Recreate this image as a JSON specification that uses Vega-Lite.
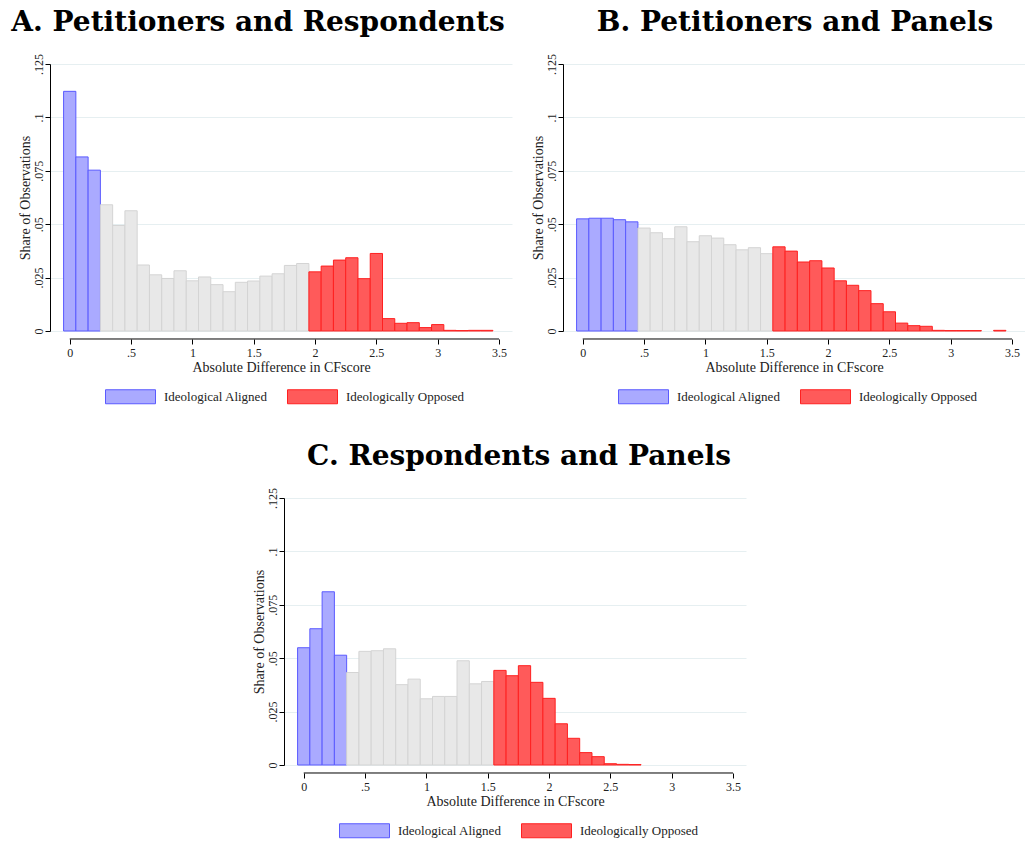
{
  "$schema": "https://vega.github.io/schema/vega-lite/v6.json",
  "padding": {"left": 11, "top": 8, "right": 0, "bottom": 0},
  "background": "white",
  "bounds": "flush",
  "spacing": 434,
  "datasets": {
    "A": [
      {"lo": -0.05, "hi": 0.05, "share": 0.1122, "group": "Ideological Aligned"},
      {"lo": 0.05, "hi": 0.15, "share": 0.0815, "group": "Ideological Aligned"},
      {"lo": 0.15, "hi": 0.25, "share": 0.0753, "group": "Ideological Aligned"},
      {"lo": 0.25, "hi": 0.35, "share": 0.0591, "group": "Neither"},
      {"lo": 0.35, "hi": 0.45, "share": 0.0494, "group": "Neither"},
      {"lo": 0.45, "hi": 0.55, "share": 0.0563, "group": "Neither"},
      {"lo": 0.55, "hi": 0.65, "share": 0.0309, "group": "Neither"},
      {"lo": 0.65, "hi": 0.75, "share": 0.0263, "group": "Neither"},
      {"lo": 0.75, "hi": 0.85, "share": 0.0246, "group": "Neither"},
      {"lo": 0.85, "hi": 0.95, "share": 0.0282, "group": "Neither"},
      {"lo": 0.95, "hi": 1.05, "share": 0.0235, "group": "Neither"},
      {"lo": 1.05, "hi": 1.15, "share": 0.0253, "group": "Neither"},
      {"lo": 1.15, "hi": 1.25, "share": 0.0217, "group": "Neither"},
      {"lo": 1.25, "hi": 1.35, "share": 0.0184, "group": "Neither"},
      {"lo": 1.35, "hi": 1.45, "share": 0.0228, "group": "Neither"},
      {"lo": 1.45, "hi": 1.55, "share": 0.0234, "group": "Neither"},
      {"lo": 1.55, "hi": 1.65, "share": 0.0257, "group": "Neither"},
      {"lo": 1.65, "hi": 1.75, "share": 0.0268, "group": "Neither"},
      {"lo": 1.75, "hi": 1.85, "share": 0.0307, "group": "Neither"},
      {"lo": 1.85, "hi": 1.95, "share": 0.0316, "group": "Neither"},
      {"lo": 1.95, "hi": 2.05, "share": 0.0277, "group": "Ideologically Opposed"},
      {"lo": 2.05, "hi": 2.15, "share": 0.0304, "group": "Ideologically Opposed"},
      {"lo": 2.15, "hi": 2.25, "share": 0.0332, "group": "Ideologically Opposed"},
      {"lo": 2.25, "hi": 2.35, "share": 0.0343, "group": "Ideologically Opposed"},
      {"lo": 2.35, "hi": 2.45, "share": 0.0245, "group": "Ideologically Opposed"},
      {"lo": 2.45, "hi": 2.55, "share": 0.0363, "group": "Ideologically Opposed"},
      {"lo": 2.55, "hi": 2.65, "share": 0.0058, "group": "Ideologically Opposed"},
      {"lo": 2.65, "hi": 2.75, "share": 0.0036, "group": "Ideologically Opposed"},
      {"lo": 2.75, "hi": 2.85, "share": 0.0039, "group": "Ideologically Opposed"},
      {"lo": 2.85, "hi": 2.95, "share": 0.0016, "group": "Ideologically Opposed"},
      {"lo": 2.95, "hi": 3.05, "share": 0.0030, "group": "Ideologically Opposed"},
      {"lo": 3.05, "hi": 3.15, "share": 0.0003, "group": "Ideologically Opposed"},
      {"lo": 3.15, "hi": 3.25, "share": 0.0002, "group": "Ideologically Opposed"},
      {"lo": 3.25, "hi": 3.35, "share": 0.0003, "group": "Ideologically Opposed"},
      {"lo": 3.35, "hi": 3.45, "share": 0.0003, "group": "Ideologically Opposed"}
    ],
    "B": [
      {"lo": -0.05, "hi": 0.05, "share": 0.0525, "group": "Ideological Aligned"},
      {"lo": 0.05, "hi": 0.15, "share": 0.0528, "group": "Ideological Aligned"},
      {"lo": 0.15, "hi": 0.25, "share": 0.0528, "group": "Ideological Aligned"},
      {"lo": 0.25, "hi": 0.35, "share": 0.0521, "group": "Ideological Aligned"},
      {"lo": 0.35, "hi": 0.45, "share": 0.0511, "group": "Ideological Aligned"},
      {"lo": 0.45, "hi": 0.55, "share": 0.0482, "group": "Neither"},
      {"lo": 0.55, "hi": 0.65, "share": 0.0460, "group": "Neither"},
      {"lo": 0.65, "hi": 0.75, "share": 0.0432, "group": "Neither"},
      {"lo": 0.75, "hi": 0.85, "share": 0.0488, "group": "Neither"},
      {"lo": 0.85, "hi": 0.95, "share": 0.0418, "group": "Neither"},
      {"lo": 0.95, "hi": 1.05, "share": 0.0446, "group": "Neither"},
      {"lo": 1.05, "hi": 1.15, "share": 0.0435, "group": "Neither"},
      {"lo": 1.15, "hi": 1.25, "share": 0.0404, "group": "Neither"},
      {"lo": 1.25, "hi": 1.35, "share": 0.0380, "group": "Neither"},
      {"lo": 1.35, "hi": 1.45, "share": 0.0390, "group": "Neither"},
      {"lo": 1.45, "hi": 1.55, "share": 0.0362, "group": "Neither"},
      {"lo": 1.55, "hi": 1.65, "share": 0.0394, "group": "Ideologically Opposed"},
      {"lo": 1.65, "hi": 1.75, "share": 0.0374, "group": "Ideologically Opposed"},
      {"lo": 1.75, "hi": 1.85, "share": 0.0323, "group": "Ideologically Opposed"},
      {"lo": 1.85, "hi": 1.95, "share": 0.0329, "group": "Ideologically Opposed"},
      {"lo": 1.95, "hi": 2.05, "share": 0.0295, "group": "Ideologically Opposed"},
      {"lo": 2.05, "hi": 2.15, "share": 0.0235, "group": "Ideologically Opposed"},
      {"lo": 2.15, "hi": 2.25, "share": 0.0214, "group": "Ideologically Opposed"},
      {"lo": 2.25, "hi": 2.35, "share": 0.0189, "group": "Ideologically Opposed"},
      {"lo": 2.35, "hi": 2.45, "share": 0.0128, "group": "Ideologically Opposed"},
      {"lo": 2.45, "hi": 2.55, "share": 0.0090, "group": "Ideologically Opposed"},
      {"lo": 2.55, "hi": 2.65, "share": 0.0037, "group": "Ideologically Opposed"},
      {"lo": 2.65, "hi": 2.75, "share": 0.0025, "group": "Ideologically Opposed"},
      {"lo": 2.75, "hi": 2.85, "share": 0.0022, "group": "Ideologically Opposed"},
      {"lo": 2.85, "hi": 2.95, "share": 0.0003, "group": "Ideologically Opposed"},
      {"lo": 2.95, "hi": 3.05, "share": 0.0002, "group": "Ideologically Opposed"},
      {"lo": 3.05, "hi": 3.15, "share": 0.0002, "group": "Ideologically Opposed"},
      {"lo": 3.15, "hi": 3.25, "share": 0.0002, "group": "Ideologically Opposed"},
      {"lo": 3.35, "hi": 3.45, "share": 0.0003, "group": "Ideologically Opposed"}
    ],
    "C": [
      {"lo": -0.05, "hi": 0.05, "share": 0.0549, "group": "Ideological Aligned"},
      {"lo": 0.05, "hi": 0.15, "share": 0.0638, "group": "Ideological Aligned"},
      {"lo": 0.15, "hi": 0.25, "share": 0.0811, "group": "Ideological Aligned"},
      {"lo": 0.25, "hi": 0.35, "share": 0.0514, "group": "Ideological Aligned"},
      {"lo": 0.35, "hi": 0.45, "share": 0.0433, "group": "Neither"},
      {"lo": 0.45, "hi": 0.55, "share": 0.0532, "group": "Neither"},
      {"lo": 0.55, "hi": 0.65, "share": 0.0535, "group": "Neither"},
      {"lo": 0.65, "hi": 0.75, "share": 0.0544, "group": "Neither"},
      {"lo": 0.75, "hi": 0.85, "share": 0.0376, "group": "Neither"},
      {"lo": 0.85, "hi": 0.95, "share": 0.0402, "group": "Neither"},
      {"lo": 0.95, "hi": 1.05, "share": 0.0310, "group": "Neither"},
      {"lo": 1.05, "hi": 1.15, "share": 0.0321, "group": "Neither"},
      {"lo": 1.15, "hi": 1.25, "share": 0.0321, "group": "Neither"},
      {"lo": 1.25, "hi": 1.35, "share": 0.0488, "group": "Neither"},
      {"lo": 1.35, "hi": 1.45, "share": 0.0380, "group": "Neither"},
      {"lo": 1.45, "hi": 1.55, "share": 0.0391, "group": "Neither"},
      {"lo": 1.55, "hi": 1.65, "share": 0.0443, "group": "Ideologically Opposed"},
      {"lo": 1.65, "hi": 1.75, "share": 0.0418, "group": "Ideologically Opposed"},
      {"lo": 1.75, "hi": 1.85, "share": 0.0465, "group": "Ideologically Opposed"},
      {"lo": 1.85, "hi": 1.95, "share": 0.0387, "group": "Ideologically Opposed"},
      {"lo": 1.95, "hi": 2.05, "share": 0.0312, "group": "Ideologically Opposed"},
      {"lo": 2.05, "hi": 2.15, "share": 0.0193, "group": "Ideologically Opposed"},
      {"lo": 2.15, "hi": 2.25, "share": 0.0125, "group": "Ideologically Opposed"},
      {"lo": 2.25, "hi": 2.35, "share": 0.0058, "group": "Ideologically Opposed"},
      {"lo": 2.35, "hi": 2.45, "share": 0.0039, "group": "Ideologically Opposed"},
      {"lo": 2.45, "hi": 2.55, "share": 0.0006, "group": "Ideologically Opposed"},
      {"lo": 2.55, "hi": 2.65, "share": 0.0003, "group": "Ideologically Opposed"},
      {"lo": 2.65, "hi": 2.75, "share": 0.0002, "group": "Ideologically Opposed"}
    ],
    "axisline": [{"from": 0, "to": 3.5, "level": -0.00374}]
  },
  "vconcat": [
    {
      "hconcat": [
        {
          "width": 462, "height": 267,
          "title": {"text": "A. Petitioners and Respondents", "dx": -23},
          "layer": [
            {
              "data": {"name": "A"},
              "mark": {"type": "bar", "strokeWidth": 1, "orient": "vertical"},
              "encoding": {
                "x": {"field": "lo", "type": "quantitative", "scale": {"domain": [-0.12, 3.565], "nice": false, "zero": false}, "title": "Absolute Difference in CFscore", "axis": {"values": [0, 0.5, 1, 1.5, 2, 2.5, 3, 3.5]}},
                "x2": {"field": "hi"},
                "y": {"field": "share", "type": "quantitative", "scale": {"domain": [0, 0.125], "nice": false}, "title": "Share of Observations", "axis": {"values": [0, 0.025, 0.05, 0.075, 0.1, 0.125]}},
                "y2": {"datum": 0},
                "fill": {"field": "group", "type": "nominal", "scale": {"domain": ["Ideological Aligned", "Neither", "Ideologically Opposed"], "range": ["#AAAAFF", "#E8E8E8", "#FF5A5A"]}, "legend": {"values": ["Ideological Aligned", "Ideologically Opposed"]}},
                "stroke": {"field": "group", "type": "nominal", "scale": {"domain": ["Ideological Aligned", "Neither", "Ideologically Opposed"], "range": ["#5A5AFF", "#D4D4D4", "#FF2020"]}, "legend": {"values": ["Ideological Aligned", "Ideologically Opposed"]}}
              }
            },
            {
              "data": {"name": "axisline"},
              "mark": {"type": "rule", "color": "black", "strokeWidth": 1},
              "encoding": {
                "x": {"field": "from", "type": "quantitative"},
                "x2": {"field": "to"},
                "y": {"field": "level", "type": "quantitative"}
              }
            }
          ]
        },
        {
          "width": 462, "height": 267,
          "title": {"text": "B. Petitioners and Panels", "dx": 1},
          "layer": [
            {
              "data": {"name": "B"},
              "mark": {"type": "bar", "strokeWidth": 1, "orient": "vertical"},
              "encoding": {
                "x": {"field": "lo", "type": "quantitative", "scale": {"domain": [-0.12, 3.565], "nice": false, "zero": false}, "title": "Absolute Difference in CFscore", "axis": {"values": [0, 0.5, 1, 1.5, 2, 2.5, 3, 3.5]}},
                "x2": {"field": "hi"},
                "y": {"field": "share", "type": "quantitative", "scale": {"domain": [0, 0.125], "nice": false}, "title": "Share of Observations", "axis": {"values": [0, 0.025, 0.05, 0.075, 0.1, 0.125]}},
                "y2": {"datum": 0},
                "fill": {"field": "group", "type": "nominal", "scale": {"domain": ["Ideological Aligned", "Neither", "Ideologically Opposed"], "range": ["#AAAAFF", "#E8E8E8", "#FF5A5A"]}, "legend": {"values": ["Ideological Aligned", "Ideologically Opposed"]}},
                "stroke": {"field": "group", "type": "nominal", "scale": {"domain": ["Ideological Aligned", "Neither", "Ideologically Opposed"], "range": ["#5A5AFF", "#D4D4D4", "#FF2020"]}, "legend": {"values": ["Ideological Aligned", "Ideologically Opposed"]}}
              }
            },
            {
              "data": {"name": "axisline"},
              "mark": {"type": "rule", "color": "black", "strokeWidth": 1},
              "encoding": {
                "x": {"field": "from", "type": "quantitative"},
                "x2": {"field": "to"},
                "y": {"field": "level", "type": "quantitative"}
              }
            }
          ]
        }
      ],
      "spacing": 51,
      "bounds": "flush",
      "resolve": {"legend": {"fill": "independent", "stroke": "independent"}}
    },
    {
      "hconcat": [
        {
          "width": 224, "height": 10,
          "data": {"values": []},
          "mark": {"type": "point", "opacity": 0},
          "encoding": {}
        },
        {
          "width": 462, "height": 267,
          "title": {"text": "C. Respondents and Panels", "dx": 4},
          "layer": [
            {
              "data": {"name": "C"},
              "mark": {"type": "bar", "strokeWidth": 1, "orient": "vertical"},
              "encoding": {
                "x": {"field": "lo", "type": "quantitative", "scale": {"domain": [-0.12, 3.565], "nice": false, "zero": false}, "title": "Absolute Difference in CFscore", "axis": {"values": [0, 0.5, 1, 1.5, 2, 2.5, 3, 3.5]}},
                "x2": {"field": "hi"},
                "y": {"field": "share", "type": "quantitative", "scale": {"domain": [0, 0.125], "nice": false}, "title": "Share of Observations", "axis": {"values": [0, 0.025, 0.05, 0.075, 0.1, 0.125]}},
                "y2": {"datum": 0},
                "fill": {"field": "group", "type": "nominal", "scale": {"domain": ["Ideological Aligned", "Neither", "Ideologically Opposed"], "range": ["#AAAAFF", "#E8E8E8", "#FF5A5A"]}, "legend": {"values": ["Ideological Aligned", "Ideologically Opposed"]}},
                "stroke": {"field": "group", "type": "nominal", "scale": {"domain": ["Ideological Aligned", "Neither", "Ideologically Opposed"], "range": ["#5A5AFF", "#D4D4D4", "#FF2020"]}, "legend": {"values": ["Ideological Aligned", "Ideologically Opposed"]}}
              }
            },
            {
              "data": {"name": "axisline"},
              "mark": {"type": "rule", "color": "black", "strokeWidth": 1},
              "encoding": {
                "x": {"field": "from", "type": "quantitative"},
                "x2": {"field": "to"},
                "y": {"field": "level", "type": "quantitative"}
              }
            }
          ]
        }
      ],
      "spacing": 10,
      "bounds": "flush",
      "resolve": {"legend": {"fill": "independent", "stroke": "independent"}}
    }
  ],
  "resolve": {"legend": {"fill": "independent", "stroke": "independent"}},
  "config": {
    "view": {"stroke": null},
    "font": "Liberation Serif",
    "title": {"font": "DejaVu Serif", "fontSize": 28, "fontWeight": "bold", "color": "black", "anchor": "middle", "offset": 17},
    "axis": {
      "labelFont": "Liberation Serif", "titleFont": "Liberation Serif",
      "labelFontSize": 12, "titleFontSize": 14, "titleFontWeight": "normal",
      "labelColor": "#222", "titleColor": "#222",
      "domainColor": "black", "tickColor": "black", "tickSize": 5,
      "labelExpr": "replace(format(datum.value, '~g'), '0.', '.')"
    },
    "axisX": {"grid": false, "domain": false, "offset": 8, "labelPadding": 3, "titlePadding": 2},
    "axisY": {"grid": true, "gridColor": "#E6EFF1", "labelAngle": -90, "labelAlign": "center", "labelBaseline": "bottom", "labelPadding": 0, "titlePadding": 0},
    "legend": {
      "orient": "none", "legendX": 55, "legendY": 307, "direction": "horizontal", "title": null,
      "symbolType": "M-1,-0.28L1,-0.28L1,0.28L-1,0.28Z", "symbolSize": 2500,
      "symbolStrokeWidth": 1, "symbolOpacity": 1,
      "labelFont": "Liberation Serif", "labelFontSize": 13, "labelColor": "#222",
      "labelOffset": 8, "columnPadding": 17
    }
  }
}
